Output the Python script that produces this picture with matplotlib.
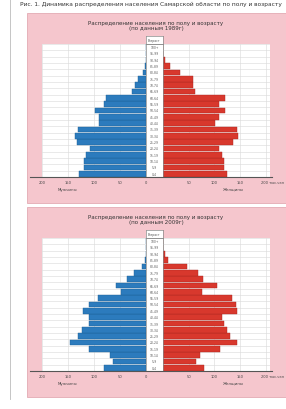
import numpy as np
import matplotlib.pyplot as plt
from matplotlib.patches import Rectangle

# ==========================================
# DATA (thousand people, age groups 0-4 ... 100+)
# ==========================================
ages = ['0-4', '5-9', '10-14', '15-19', '20-24', '25-29', '30-34', '35-39',
        '40-44', '45-49', '50-54', '55-59', '60-64', '65-69', '70-74',
        '75-79', '80-84', '85-89', '90-94', '95-99', '100+']

men_1989 = [129, 120, 120, 116, 107, 133, 137, 131, 90, 90, 98, 80, 77,
            26, 22, 15, 5, 2, 0, 0, 0]
women_1989 = [125, 119, 118, 114, 108, 137, 145, 144, 101, 108, 121, 108, 121,
              62, 59, 59, 34, 13, 4, 0, 0]

men_2009 = [80, 64, 69, 110, 146, 131, 123, 110, 110, 121, 110, 93, 48,
            58, 37, 24, 8, 2, 0, 0, 0]
women_2009 = [80, 64, 72, 110, 144, 131, 125, 119, 114, 144, 142, 134, 76,
              105, 77, 69, 46, 10, 3, 0, 0]

titles = ['Распределение населения по полу и возрасту\n(по данным 1989г)',
          'Распределение населения по полу и возрасту\n(по данным 2009г)']
caption = ('Рис. 1. Динамика распределения населения Самарской области '
           'по полу и возрасту')
left_ticks = [200, 150, 100, 50, 0]
right_ticks = [50, 100, 150, 200]

W, H = 286, 410
BLUE = '#2c7bbd'
RED = '#d8382d'
PINK = '#f5c6cd'
GRID = '#d9d9d9'


def fx(x):
    return x / W


def fy(y):
    return 1 - y / H


def ax_at(fig, x0, x1, y0, y1):
    """Axes given in pixel coordinates (y from top)."""
    return fig.add_axes([fx(x0), fy(y1), fx(x1) - fx(x0), (y1 - y0) / H])


def draw_panel(fig, top, men, women, title):
    # pink background panel, kept behind the axes
    fig.patches.append(Rectangle((fx(27), fy(top + 191)), fx(300) - fx(27), 190 / H,
                                 transform=fig.transFigure, facecolor=PINK,
                                 edgecolor='#e3aab3', lw=0.6, zorder=-5))
    fig.text(fx(156), fy(top + 13), title, ha='center', va='center',
             fontsize=4.0, color='#333333', linespacing=1.2)

    py0, py1 = top + 32, top + 165
    y = np.arange(len(ages))

    # men (left), women (right)
    axl = ax_at(fig, 42, 146, py0, py1)
    axr = ax_at(fig, 163, 270, py0, py1)
    axl.barh(y, men, height=0.85, color=BLUE, edgecolor='#1d5f94', lw=0.3, zorder=3)
    axr.barh(y, women, height=0.85, color=RED, edgecolor='#a8261f', lw=0.3, zorder=3)
    axl.set_xlim(200, 0)
    axr.set_xlim(0, 208)
    for a in (axl, axr):
        a.set_ylim(-0.5, len(ages) - 0.5)
        a.set_facecolor('white')
        a.set_yticks(np.arange(-0.5, len(ages), 1))
        a.set_yticklabels([])
        a.set_xticks([0, 50, 100, 150, 200])
        a.set_xticklabels([])
        a.tick_params(length=0)
        a.grid(True, color=GRID, lw=0.4, zorder=0)
        for s in a.spines.values():
            s.set_visible(False)

    # center column with age labels
    axc = ax_at(fig, 146, 163, py0, py1)
    axc.set_xlim(0, 1)
    axc.set_ylim(-0.5, len(ages) - 0.5)
    axc.set_xticks([])
    axc.set_yticks([])
    axc.set_facecolor('white')
    for s in axc.spines.values():
        s.set_color('#888888')
        s.set_linewidth(0.5)
    for i, lab in enumerate(ages):
        axc.text(0.5, i, lab, ha='center', va='center', fontsize=2.2, color='#555555')

    # header cell above center column
    axh = ax_at(fig, 146, 163, top + 24, py0)
    axh.set_xticks([])
    axh.set_yticks([])
    axh.set_facecolor('white')
    for s in axh.spines.values():
        s.set_color('#888888')
        s.set_linewidth(0.5)
    axh.text(0.5, 0.5, 'Возраст', ha='center', va='center', fontsize=2.2,
             color='#555555', transform=axh.transAxes)

    # x axis line and tick labels
    fig.add_artist(plt.Line2D([fx(30), fx(272)], [fy(py1), fy(py1)],
                              transform=fig.transFigure, color='#555555', lw=0.8))
    for v in left_ticks:
        xp = 146 - v * 104 / 200
        fig.text(fx(xp), fy(py1 + 5), str(v), ha='center', va='center',
                 fontsize=2.6, color='#444444')
    for v in right_ticks:
        xp = 163 + v * 107 / 208
        lab = str(v) if v < 200 else '200 тыс.чел'
        fig.text(fx(xp) if v < 200 else fx(284), fy(py1 + 5), lab,
                 ha='center' if v < 200 else 'right',
                 va='center', fontsize=2.6, color='#444444')
    fig.text(fx(67), fy(py1 + 12), 'Мужчины', ha='center', va='center',
             fontsize=2.8, color='#444444')
    fig.text(fx(233), fy(py1 + 12), 'Женщины', ha='center', va='center',
             fontsize=2.8, color='#444444')


fig = plt.figure(figsize=(W / 100, H / 100), dpi=100)
fig.patch.set_facecolor('white')

fig.text(fx(20), fy(4), caption, ha='left', va='center', fontsize=4.2, color='#333333')
fig.add_artist(plt.Line2D([fx(10), fx(10)], [fy(0), fy(400)],
                          transform=fig.transFigure, color='#bbbbbb', lw=0.6))

draw_panel(fig, 13, men_1989, women_1989, titles[0])
draw_panel(fig, 207, men_2009, women_2009, titles[1])

fig.savefig('out.png', dpi=100)
